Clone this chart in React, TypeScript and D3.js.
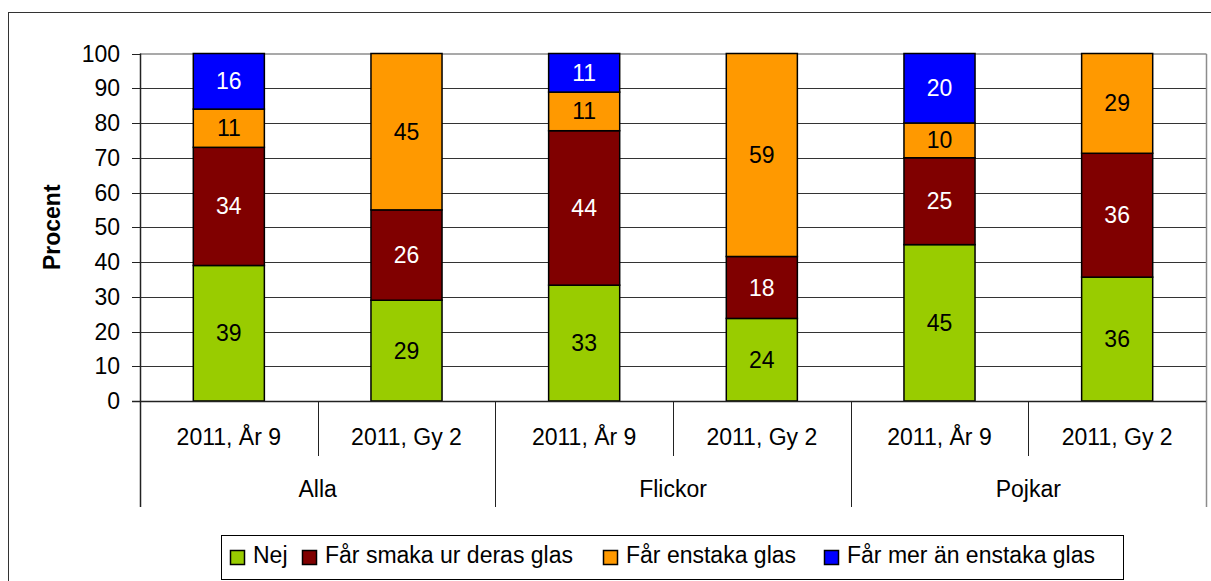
import React from 'react'
import * as d3 from 'd3'

const groups = ['Alla', 'Flickor', 'Pojkar']
const years = ['2011, År 9', '2011, Gy 2']
const seriesNames = ['Nej', 'Får smaka ur deras glas', 'Får enstaka glas', 'Får mer än enstaka glas']
const seriesColors = ['#99CC00', '#800000', '#FF9900', '#0000FF']
const labelColors = ['#000', '#fff', '#000', '#fff']

// per column: Alla År 9, Alla Gy 2, Flickor År 9, Flickor Gy 2, Pojkar År 9, Pojkar Gy 2
const nej = [39, 29, 33, 24, 45, 36]
const smaka = [34, 26, 44, 18, 25, 36]
const enstaka = [11, 45, 11, 59, 10, 29]
const merAn = [16, 0, 11, 0, 20, 0]
const yTicks = [0, 10, 20, 30, 40, 50, 60, 70, 80, 90, 100]

const W = 1211
const H = 581
const FONT = '"Liberation Sans", Arial, sans-serif'

const margin = { left: 140, right: 1206, top: 53.5, bottom: 401 }

const columns = groups.flatMap(g => years.map(y => ({ group: g, year: y, id: g + '|' + y })))
const rows = columns.map((c, i) => ({
  id: c.id,
  s0: nej[i],
  s1: smaka[i],
  s2: enstaka[i],
  s3: merAn[i]
}))

export default function App () {
  const x = d3.scaleBand().domain(columns.map(c => c.id)).range([margin.left, margin.right])
  const y = d3.scaleLinear().domain([0, 100]).range([margin.bottom, margin.top])
  const bw = x.bandwidth()
  const barW = bw * 0.4

  const stacked = d3
    .stack<any>()
    .keys(['s0', 's1', 's2', 's3'])
    .offset(d3.stackOffsetExpand)(rows)

  const legendMarkX = [230, 302, 603, 824]
  const legendTextX = [253, 325, 626, 847]

  return (
    <svg width={W} height={H} style={{ position: 'absolute', left: 0, top: 0 }} fontFamily={FONT}>
      <rect x={0} y={0} width={W} height={H} fill='#fff' />
      <rect x={8.5} y={12.5} width={W + 10} height={H + 10} fill='none' stroke='#333' />

      {/* gridlines */}
      {yTicks.filter(t => t > 0 && t < 100).map(t => (
        <line key={t} x1={margin.left} x2={margin.right} y1={Math.round(y(t)) + 0.5} y2={Math.round(y(t)) + 0.5} stroke='#333' />
      ))}
      {/* plot border top / right */}
      <line x1={margin.left} x2={margin.right + 0.5} y1={54} y2={54} stroke='#8c8c8c' strokeWidth={1.5} />
      <line x1={margin.right + 0.5} x2={margin.right + 0.5} y1={54} y2={507} stroke='#8c8c8c' strokeWidth={1.5} />

      {/* bars */}
      {stacked.map((layer, si) => (
        <g key={si}>
          {layer.map((d, ci) => {
            const raw = [nej, smaka, enstaka, merAn][si][ci]
            if (!raw) return null
            const y0 = y(d[0] * 100)
            const y1 = y(d[1] * 100)
            const cx = (x(columns[ci].id) as number) + bw / 2
            return (
              <g key={ci}>
                <rect x={cx - barW / 2} y={y1} width={barW} height={y0 - y1} fill={seriesColors[si]} stroke='#000' strokeWidth={1.5} />
                <text x={cx} y={(y0 + y1) / 2} dy='0.35em' textAnchor='middle' fontSize={23} fill={labelColors[si]}>{raw}</text>
              </g>
            )
          })}
        </g>
      ))}

      {/* y axis */}
      <line x1={margin.left + 0.5} x2={margin.left + 0.5} y1={margin.top} y2={507} stroke='#222' strokeWidth={1.5} />
      {yTicks.map(t => (
        <g key={t}>
          <line x1={132} x2={margin.left} y1={Math.round(y(t)) + 0.5} y2={Math.round(y(t)) + 0.5} stroke='#222' />
          <text x={120} y={y(t)} dy='0.35em' textAnchor='end' fontSize={23} fill='#000'>{t}</text>
        </g>
      ))}
      <text transform={`translate(60,${(margin.top + margin.bottom) / 2}) rotate(-90)`} textAnchor='middle' fontSize={23} fontWeight='bold'>Procent</text>

      {/* x axis */}
      <line x1={132} x2={margin.right} y1={margin.bottom + 0.5} y2={margin.bottom + 0.5} stroke='#222' strokeWidth={1.5} />
      {columns.map((c, i) => {
        const left = x(c.id) as number
        const isGroupStart = i % years.length === 0
        return (
          <g key={c.id}>
            {i > 0 && (
              <line x1={Math.round(left) + 0.5} x2={Math.round(left) + 0.5} y1={margin.bottom} y2={isGroupStart ? 507 : 456} stroke='#222' />
            )}
            <text x={left + bw / 2} y={437} dy='0.35em' textAnchor='middle' fontSize={23}>{c.year}</text>
          </g>
        )
      })}
      {groups.map((g, gi) => {
        const left = x(columns[gi * years.length].id) as number
        return (
          <text key={g} x={left + bw} y={489} dy='0.35em' textAnchor='middle' fontSize={23}>{g}</text>
        )
      })}

      {/* legend */}
      <rect x={221.5} y={535.5} width={902} height={44} fill='#fff' stroke='#000' />
      {seriesNames.map((n, i) => (
        <g key={n}>
          <rect x={legendMarkX[i] + 0.5} y={550.5} width={14} height={14} fill={seriesColors[i]} stroke='#000' strokeWidth={1.5} />
          <text x={legendTextX[i]} y={555} dy='0.35em' fontSize={23}>{n}</text>
        </g>
      ))}
    </svg>
  )
}
